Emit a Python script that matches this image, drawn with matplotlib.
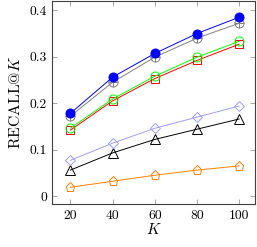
import matplotlib
matplotlib.use('Agg')
import matplotlib.pyplot as plt
from matplotlib.ticker import FixedLocator, FuncFormatter

plt.rcParams['font.family'] = 'serif'
plt.rcParams['font.serif'] = ['cmr10', 'DejaVu Serif']
plt.rcParams['mathtext.fontset'] = 'cm'
plt.rcParams['axes.unicode_minus'] = False

# data
k_values = [20, 40, 60, 80, 100]
recall_blue = [0.178, 0.256, 0.307, 0.350, 0.385]
recall_gray = [0.172, 0.245, 0.299, 0.340, 0.372]
recall_green = [0.146, 0.209, 0.258, 0.299, 0.333]
recall_red = [0.142, 0.205, 0.253, 0.292, 0.327]
recall_lavender = [0.077, 0.114, 0.146, 0.170, 0.194]
recall_black = [0.056, 0.093, 0.122, 0.144, 0.166]
recall_orange = [0.019, 0.032, 0.045, 0.056, 0.065]

y_ticks = [0, 0.1, 0.2, 0.3, 0.4]

fig = plt.figure(figsize=(2.57, 2.47), dpi=100)
ax = fig.add_axes([0.204, 0.174, 0.788, 0.822])

lw = 0.7
ms = 6.5

ax.plot(k_values, recall_orange, color='#ff8000', lw=lw, marker='p', ms=ms,
        mfc='none', mec='#ff8000', mew=0.7)
ax.plot(k_values, recall_black, color='black', lw=lw, marker='^', ms=7.5,
        mfc='none', mec='black', mew=0.7)
ax.plot(k_values, recall_lavender, color='#9e9ef0', lw=lw, marker='D', ms=4.8,
        mfc='none', mec='#9e9ef0', mew=0.7)
ax.plot(k_values, recall_red, color='red', lw=lw, marker='s', ms=6,
        mfc='none', mec='red', mew=0.7)
ax.plot(k_values, recall_green, color='#00ff00', lw=lw, marker='o', ms=ms,
        mfc='none', mec='#00ff00', mew=0.7)
ax.plot(k_values, recall_gray, color='gray', lw=lw, marker='o', ms=ms,
        mfc='none', mec='gray', mew=0.7)
ax.plot(k_values, recall_gray, ls='none', marker='+', ms=ms, mec='gray', mew=0.7)
ax.plot(k_values, recall_blue, color='blue', lw=lw, marker='o', ms=ms,
        mfc='blue', mec='blue', mew=0.7)

ax.set_xlim(11.5, 107.5)
ax.set_ylim(-0.017, 0.42)
ax.xaxis.set_major_locator(FixedLocator(k_values))
ax.yaxis.set_major_locator(FixedLocator(y_ticks))
ax.yaxis.set_major_formatter(FuncFormatter(lambda v, p: '0' if v == 0 else f'{v:g}'))

ax.tick_params(direction='in', length=3.5, width=0.6, color='#999999',
               top=True, right=True, labelsize=9.8, pad=4)
for s in ax.spines.values():
    s.set_linewidth(0.8)
    s.set_color('#404040')

ax.set_xlabel('$K$', fontsize=11, labelpad=0)
ax.set_ylabel('RECALL@$K$', fontsize=11.3, labelpad=5)

fig.savefig('out.png', dpi=100)
